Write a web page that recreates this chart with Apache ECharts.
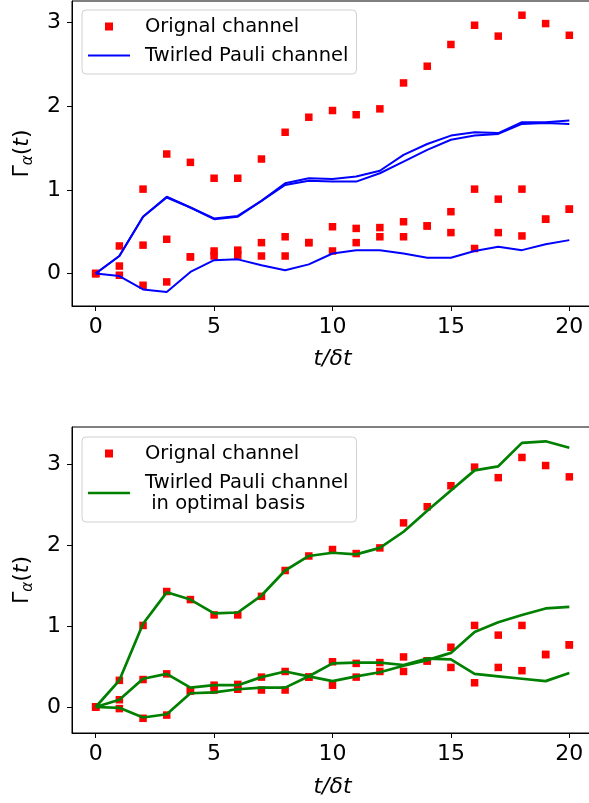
<!DOCTYPE html>
<html>
<head>
<meta charset="utf-8">
<script src="https://cdn.jsdelivr.net/npm/echarts@6/dist/echarts.min.js"></script>
<style>
    html, body { margin: 0; padding: 0; background: #fff; }
    #chart { width: 589px; height: 803px; }
</style>
</head>
<body>
<div id="chart"></div>
<script>
const steps = [0, 1, 2, 3, 4, 5, 6, 7, 8, 9, 10, 11, 12, 13, 14, 15, 16, 17, 18, 19, 20]

// original channel (same points in both panels)
const origA = [0, 0.33, 1.01, 1.43, 1.33, 1.14, 1.14, 1.37, 1.69, 1.87, 1.95, 1.90, 1.97, 2.28, 2.48, 2.74, 2.97, 2.84, 3.09, 2.99, 2.85]
const origB = [0, 0.09, 0.34, 0.41, 0.20, 0.27, 0.28, 0.37, 0.44, 0.37, 0.56, 0.54, 0.55, 0.62, 0.57, 0.74, 1.01, 0.89, 1.01, 0.65, 0.77]
const origC = [0, -0.02, -0.14, -0.10, 0.20, 0.21, 0.22, 0.21, 0.21, 0.37, 0.27, 0.37, 0.44, 0.44, 0.57, 0.49, 0.30, 0.49, 0.45, 0.65, 0.77]

// twirled pauli channel (top panel)
const twirlA = [0, 0.21, 0.68, 0.92, 0.79, 0.66, 0.69, 0.87, 1.08, 1.14, 1.13, 1.16, 1.23, 1.42, 1.55, 1.65, 1.69, 1.68, 1.81, 1.81, 1.83]
const twirlB = [0, 0.21, 0.68, 0.91, 0.79, 0.65, 0.68, 0.87, 1.06, 1.11, 1.10, 1.10, 1.20, 1.34, 1.48, 1.60, 1.65, 1.67, 1.79, 1.80, 1.79]
const twirlC = [0, -0.03, -0.19, -0.22, 0.02, 0.16, 0.17, 0.10, 0.04, 0.11, 0.24, 0.28, 0.28, 0.24, 0.19, 0.19, 0.27, 0.32, 0.28, 0.35, 0.40]

// twirled pauli channel in optimal basis (bottom panel)
const optA = [0, 0.33, 1.03, 1.42, 1.33, 1.16, 1.17, 1.38, 1.69, 1.87, 1.91, 1.89, 1.97, 2.17, 2.43, 2.68, 2.93, 2.98, 3.27, 3.29, 3.21]
const optB = [0, 0.09, 0.35, 0.41, 0.24, 0.27, 0.27, 0.37, 0.44, 0.38, 0.32, 0.38, 0.43, 0.51, 0.58, 0.67, 0.93, 1.05, 1.14, 1.22, 1.24]
const optC = [0, -0.01, -0.13, -0.09, 0.17, 0.18, 0.22, 0.24, 0.24, 0.38, 0.54, 0.55, 0.55, 0.52, 0.60, 0.59, 0.41, 0.38, 0.35, 0.32, 0.42]

const xTicks = [0, 5, 10, 15, 20]
const yTicks = [0, 1, 2, 3]

const font = 'DejaVu Sans'
const squareIcon = 'path://M0 0H10V10H0Z'
const blueIcon = 'path://M0 0H42V2H0Z'
const greenIcon = 'path://M0 0H42V2.7H0Z'

const pairs = ys => steps.map((t, i) => [t, ys[i]])

const makeX = (gridIndex, nameGap) => ({
    type: 'value',
    gridIndex,
    min: -1,
    max: 21,
    name: 't/δt',
    nameLocation: 'middle',
    nameGap,
    nameTextStyle: { fontFamily: font, fontStyle: 'italic', fontSize: 22, color: '#000' },
    axisLine: { show: true, onZero: false, lineStyle: { color: '#000', width: 1 } },
    axisTick: { show: true, length: 5, customValues: xTicks, lineStyle: { color: '#000' } },
    axisLabel: { customValues: xTicks, fontFamily: font, fontSize: 22, color: '#000', margin: 10 },
    splitLine: { show: false }
})

const makeY = (gridIndex, min, max) => ({
    type: 'value',
    gridIndex,
    min,
    max,
    name: '{g|Γ}{a|α}{p|(}{t|t}{p|)}',
    nameLocation: 'middle',
    nameRotate: 90,
    nameGap: 36,
    nameTextStyle: {
        rich: {
            g: { fontFamily: font, fontSize: 22, color: '#000', lineHeight: 28 },
            a: { fontFamily: font, fontSize: 15, fontStyle: 'italic', color: '#000', verticalAlign: 'bottom', lineHeight: 16 },
            p: { fontFamily: font, fontSize: 22, color: '#000', lineHeight: 28 },
            t: { fontFamily: font, fontSize: 22, fontStyle: 'italic', color: '#000', lineHeight: 28 }
        }
    },
    axisLine: { show: true, onZero: false, lineStyle: { color: '#000', width: 1 } },
    axisTick: { show: true, length: 5, customValues: yTicks, lineStyle: { color: '#000' } },
    axisLabel: { customValues: yTicks, fontFamily: font, fontSize: 22, color: '#000', margin: 11 },
    splitLine: { show: false }
})

const scatter = (ys, idx) => ({
    name: 'Orignal channel',
    type: 'scatter',
    xAxisIndex: idx,
    yAxisIndex: idx,
    symbol: 'rect',
    symbolSize: 7.5,
    itemStyle: { color: '#ff0000', opacity: 1 },
    z: 2,
    data: pairs(ys)
})

const line = (name, ys, idx, color, width) => ({
    name,
    type: 'line',
    xAxisIndex: idx,
    yAxisIndex: idx,
    symbol: 'none',
    showSymbol: false,
    lineStyle: { color, width },
    itemStyle: { color },
    z: 3,
    data: pairs(ys)
})

const legendBase = {
    orient: 'vertical',
    left: 82,
    itemWidth: 42,
    itemHeight: 8,
    itemGap: 8,
    padding: [6, 8, 8, 6],
    backgroundColor: 'rgba(255,255,255,0.8)',
    borderColor: '#d0d0d0',
    borderWidth: 1,
    borderRadius: 4,
    textStyle: { fontFamily: font, fontSize: 19.5, color: '#000', lineHeight: 21, padding: [0, 0, 0, 10] }
}

const myChart = echarts.init(document.getElementById('chart'))

const option = {
    animation: false,
    backgroundColor: '#fff',
    grid: [
        { left: 72, top: 1, width: 521, height: 305, show: true, borderColor: '#000', borderWidth: 1, outerBoundsMode: 'none', containLabel: false },
        { left: 72, top: 427, width: 521, height: 306, show: true, borderColor: '#000', borderWidth: 1, outerBoundsMode: 'none', containLabel: false }
    ],
    xAxis: [makeX(0, 42), makeX(1, 43)],
    yAxis: [makeY(0, -0.388, 3.26), makeY(1, -0.322, 3.467)],
    legend: [
        Object.assign({}, legendBase, {
            top: 10,
            data: [
                { name: 'Orignal channel', icon: squareIcon },
                { name: 'Twirled Pauli channel', icon: blueIcon }
            ]
        }),
        Object.assign({}, legendBase, {
            top: 437,
            data: [
                { name: 'Orignal channel', icon: squareIcon },
                { name: 'Twirled Pauli channel in optimal basis', icon: greenIcon }
            ],
            formatter: name => name === 'Twirled Pauli channel in optimal basis' ? 'Twirled Pauli channel\n in optimal basis' : name
        })
    ],
    series: [
        scatter(origA, 0),
        scatter(origB, 0),
        scatter(origC, 0),
        line('Twirled Pauli channel', twirlA, 0, '#0000ff', 2),
        line('Twirled Pauli channel', twirlB, 0, '#0000ff', 2),
        line('Twirled Pauli channel', twirlC, 0, '#0000ff', 2),
        scatter(origA, 1),
        scatter(origB, 1),
        scatter(origC, 1),
        line('Twirled Pauli channel in optimal basis', optA, 1, '#008000', 2.7),
        line('Twirled Pauli channel in optimal basis', optB, 1, '#008000', 2.7),
        line('Twirled Pauli channel in optimal basis', optC, 1, '#008000', 2.7)
    ]
}
myChart.setOption(option)
</script>
</body>
</html>
